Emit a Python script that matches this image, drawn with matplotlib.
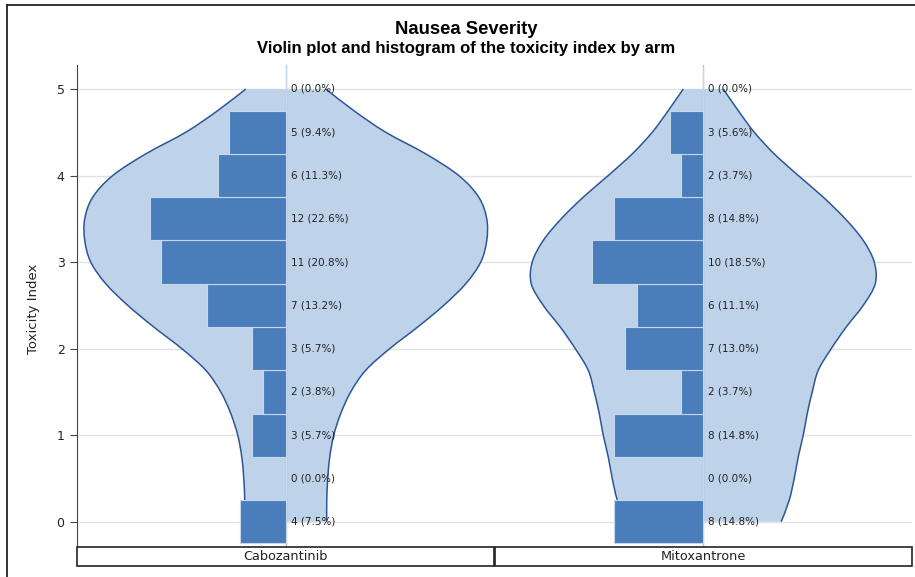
import numpy as np
import matplotlib.pyplot as plt
from matplotlib.lines import Line2D
from matplotlib.patches import Rectangle, PathPatch
from matplotlib.path import Path

# data
arms = ['Cabozantinib', 'Mitoxantrone']
tox_levels = [0, 0.5, 1, 1.5, 2, 2.5, 3, 3.5, 4, 4.5, 5]
counts_cabo = [4, 0, 3, 2, 3, 7, 11, 12, 6, 5, 0]
counts_mito = [8, 0, 8, 2, 7, 6, 10, 8, 2, 3, 0]

# violin half-width (density) at 0, 0.25, ..., 5
kde_y = [0, 0.25, 0.5, 0.75, 1, 1.25, 1.5, 1.75, 2, 2.25, 2.5,
         2.75, 3, 3.25, 3.5, 3.75, 4, 4.25, 4.5, 4.75, 5]
kde_cabo = [41, 41, 42, 44, 48, 55, 65, 80, 104, 132, 158,
            180, 195, 201, 201, 193, 173, 140, 100, 68, 40]
kde_mito = [78, 86, 91, 95, 100, 104, 109, 115, 128, 143, 160,
            172, 171, 160, 142, 120, 95, 71, 51, 35, 20]


def smooth_curve(xs, ys):
    """catmull-rom through the points, as bezier segments"""
    p = np.column_stack([xs, ys])
    pad = np.vstack([p[0], p, p[-1]])
    verts = [p[0]]
    codes = [Path.MOVETO]
    for k in range(len(p) - 1):
        p0, p1, p2, p3 = pad[k], pad[k + 1], pad[k + 2], pad[k + 3]
        verts += [p1 + (p2 - p0) / 6, p2 - (p3 - p1) / 6, p2]
        codes += [Path.CURVE4] * 3
    return verts, codes


W, H = 915, 577
fig = plt.figure(figsize=(W / 100, H / 100), dpi=100)
ax = fig.add_axes([77 / W, (H - 547) / H, (912 - 77) / W, (547 - 65) / H])
ax.set_xlim(0, 2)
ax.set_ylim(-0.292, 5.277)

violin_fill = '#bed3ea'
violin_edge = '#2d5696'
bar_col = '#4a7ebb'
panel_px = 417.5   # one panel, in pixels -> 1 x unit
bar_px_per_pct = 6.0

for i, (arm, counts, dens) in enumerate(zip(arms, [counts_cabo, counts_mito], [kde_cabo, kde_mito])):
    c = i + 0.5
    hw = np.array(dens) / panel_px
    y = np.array(kde_y, dtype=float)

    rv, rc = smooth_curve(c + hw, y)
    lv, lc = smooth_curve((c - hw)[::-1], y[::-1])
    fill_path = Path(rv + lv[:1] + lv[1:] + [rv[0]],
                     rc + [Path.LINETO] + lc[1:] + [Path.CLOSEPOLY])
    ax.add_patch(PathPatch(fill_path, facecolor=violin_fill, edgecolor='none', zorder=1))
    ax.add_patch(PathPatch(Path(rv, rc), fill=False, edgecolor=violin_edge, lw=1.1, zorder=2))
    ax.add_patch(PathPatch(Path(lv, lc), fill=False, edgecolor=violin_edge, lw=1.1, zorder=2))
    ax.axvline(c, color='#a8c3e4', lw=1, zorder=2)

    total = sum(counts)
    pct = [100 * n / total for n in counts]
    w = np.array(pct) * bar_px_per_pct / panel_px
    ax.barh(tox_levels, w, left=c - w, height=0.5, color=bar_col,
            edgecolor='#c4d7ec', linewidth=0.8, zorder=3)
    for lvl, n, p in zip(tox_levels, counts, pct):
        ax.text(c + 5 / panel_px, lvl, f'{n} ({p:.1f}%)', va='center', ha='left',
                fontsize=7.5, color='#222222', zorder=4)

    # header box at the bottom
    x0 = (77 + i * panel_px) / W
    fig.add_artist(Rectangle((x0, (H - 566) / H), panel_px / W, 19 / H,
                             transform=fig.transFigure, fill=False,
                             edgecolor='#222222', linewidth=1.2))
    fig.text(x0 + panel_px / W / 2, (H - 556.5) / H, arm, ha='center', va='center',
             fontsize=9.3, color='#222222')

ax.set_yticks([0, 1, 2, 3, 4, 5])
ax.set_xticks([])
ax.yaxis.grid(True, color='#e3e3e3', lw=1)
ax.set_axisbelow(True)
for s in ['top', 'right', 'bottom']:
    ax.spines[s].set_visible(False)
ax.spines['left'].set_color('#444444')
ax.tick_params(axis='y', length=5, color='#444444', labelsize=9, pad=4, labelcolor='#222222')

fig.text(33 / W, 1 - 309 / H, 'Toxicity Index', rotation=90, ha='center', va='center',
         fontsize=9.5, color='#222222')

fig.text(466 / W, 1 - 29 / H, 'Nausea Severity', ha='center', va='center',
         fontsize=13.3, fontweight='bold', family='Liberation Sans')
fig.text(466 / W, 1 - 49 / H, 'Violin plot and histogram of the toxicity index by arm',
         ha='center', va='center', fontsize=12, fontweight='bold', family='Liberation Sans')

# outer frame (left and top visible)
fig.add_artist(Line2D([6.5 / W, 6.5 / W], [0, 1 - 5 / H], transform=fig.transFigure,
                      color='#222222', lw=1.3))
fig.add_artist(Line2D([6.5 / W, 1], [1 - 5 / H, 1 - 5 / H], transform=fig.transFigure,
                      color='#222222', lw=1.3))

fig.savefig('out.png', dpi=100)
